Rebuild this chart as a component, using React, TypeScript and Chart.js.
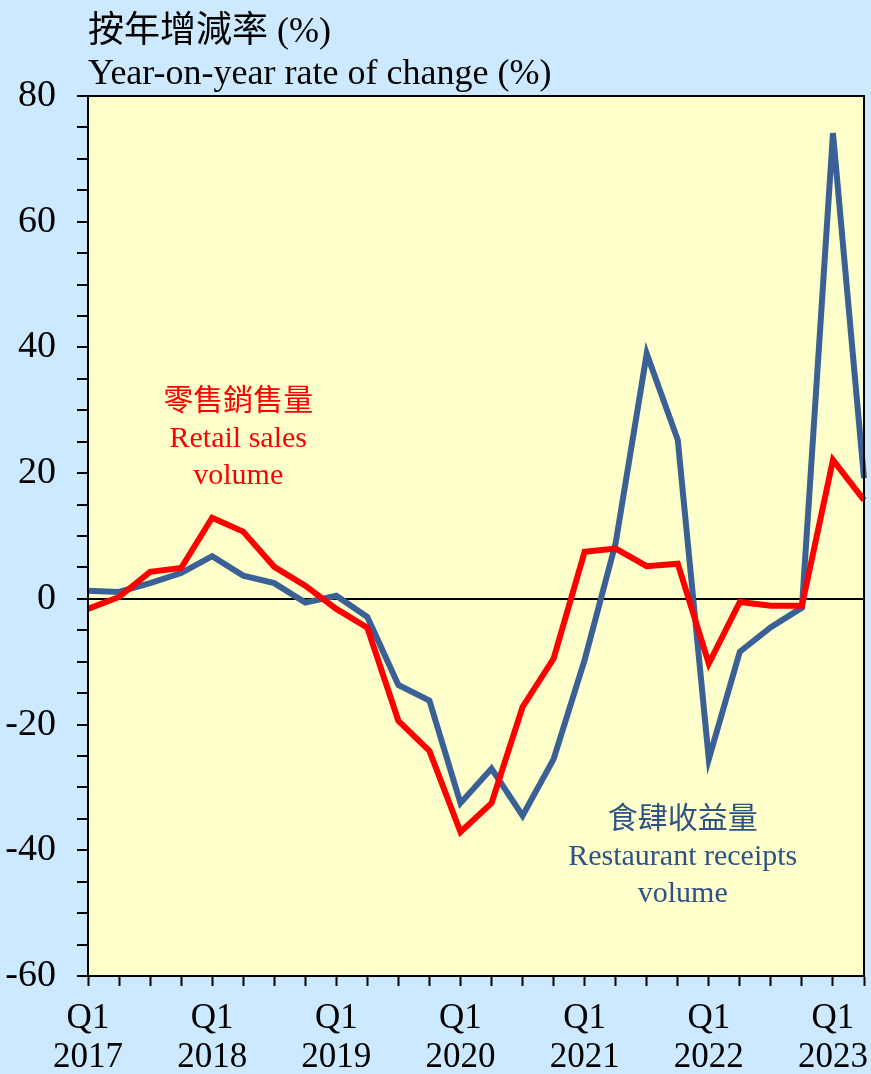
import React, { useEffect, useRef } from "react";
import { Chart, registerables } from "chart.js";

Chart.register(...registerables);

const categories = [
  "2017 Q1", "2017 Q2", "2017 Q3", "2017 Q4",
  "2018 Q1", "2018 Q2", "2018 Q3", "2018 Q4",
  "2019 Q1", "2019 Q2", "2019 Q3", "2019 Q4",
  "2020 Q1", "2020 Q2", "2020 Q3", "2020 Q4",
  "2021 Q1", "2021 Q2", "2021 Q3", "2021 Q4",
  "2022 Q1", "2022 Q2", "2022 Q3", "2022 Q4",
  "2023 Q1", "2023 Q2",
];

const retailSales = [
  -1.6, 0.3, 4.3, 4.9, 12.9, 10.7, 5.1, 2.1,
  -1.6, -4.6, -19.4, -24.2, -37.1, -32.5, -17.2, -9.5,
  7.5, 8.0, 5.2, 5.6, -10.3, -0.5, -1.1, -1.1,
  22.1, 15.7,
];

const restaurantReceipts = [
  1.3, 1.1, 2.5, 4.1, 6.8, 3.7, 2.5, -0.6,
  0.5, -2.9, -13.7, -16.2, -32.5, -27.0, -34.5, -25.5,
  -9.7, 8.9, 39.0, 25.3, -25.5, -8.4, -4.5, -1.4,
  74.1, 19.2,
];

const yMin = -60;
const yMax = 80;
const yLabelStep = 20;
const yMinorStep = 5;

const titleLines = ["按年增減率 (%)", "Year-on-year rate of change (%)"];
const retailLabel = ["零售銷售量", "Retail sales", "volume"];
const restaurantLabel = ["食肆收益量", "Restaurant receipts", "volume"];
// label anchor in data coordinates: [category index, value of first line]
const retailLabelAnchor = [4.84, 31.3];
const restaurantLabelAnchor = [19.16, -35.2];

const FONT = '"Liberation Serif", "Times New Roman", "Noto Sans CJK TC", serif';
const RED = "#FF0000";
const BLUE = "#3A6095";
const BLUE_TEXT = "#2E5285";

const decorPlugin = {
  id: "decor",
  beforeDraw(chart: any) {
    const { ctx, chartArea: a, width, height } = chart;
    ctx.save();
    ctx.fillStyle = "#CCE9FF";
    ctx.fillRect(0, 0, width, height);
    ctx.fillStyle = "#FFFFCC";
    ctx.fillRect(a.left, a.top, a.right - a.left, a.bottom - a.top);
    ctx.restore();
  },
  afterDatasetsDraw(chart: any) {
    const { ctx, chartArea: a } = chart;
    ctx.save();
    ctx.strokeStyle = "#000";
    ctx.lineWidth = 2;
    ctx.strokeRect(a.left, a.top, a.right - a.left, a.bottom - a.top);
    ctx.restore();
  },
  afterDraw(chart: any) {
    const { ctx, chartArea: a, scales } = chart;
    ctx.save();
    ctx.textBaseline = "alphabetic";
    ctx.textAlign = "left";
    ctx.fillStyle = "#000";
    ctx.font = `36px ${FONT}`;
    ctx.fillText(titleLines[0], a.left, 42);
    ctx.fillText(titleLines[1], a.left, 84);

    const drawBlock = (lines: string[], anchor: number[], color: string) => {
      const x = scales.x.getPixelForValue(anchor[0]);
      const y0 = scales.y.getPixelForValue(anchor[1]);
      ctx.fillStyle = color;
      ctx.textAlign = "center";
      ctx.textBaseline = "middle";
      ctx.font = `30px ${FONT}`;
      lines.forEach((t, i) => ctx.fillText(t, x, y0 + i * 37));
    };
    drawBlock(retailLabel, retailLabelAnchor, RED);
    drawBlock(restaurantLabel, restaurantLabelAnchor, BLUE_TEXT);
    ctx.restore();
  },
};

export default function App() {
  const ref = useRef<HTMLCanvasElement | null>(null);

  useEffect(() => {
    document.body.style.margin = "0";
    const canvas = ref.current;
    if (!canvas) return;
    const chart = new Chart(canvas, {
      type: "line",
      data: {
        labels: categories,
        datasets: [
          {
            label: "Retail sales volume",
            data: retailSales,
            borderColor: RED,
            borderWidth: 6,
            pointRadius: 0,
            tension: 0,
            fill: false,
          },
          {
            label: "Restaurant receipts volume",
            data: restaurantReceipts,
            borderColor: BLUE,
            borderWidth: 6,
            pointRadius: 0,
            tension: 0,
            fill: false,
          },
        ],
      },
      options: {
        responsive: false,
        animation: false,
        devicePixelRatio: 1,
        layout: { padding: { top: 96, right: 7, left: 0, bottom: 0 } },
        plugins: {
          legend: { display: false },
          tooltip: { enabled: false },
          title: { display: false },
        },
        scales: {
          x: {
            type: "category",
            offset: false,
            grid: {
              display: true,
              drawOnChartArea: false,
              drawTicks: true,
              tickLength: 10,
              tickColor: "#000",
              tickWidth: 2,
              offset: false,
            },
            border: { display: true, color: "#000", width: 2 },
            ticks: {
              autoSkip: false,
              maxRotation: 0,
              minRotation: 0,
              padding: 13,
              color: "#000",
              font: { family: FONT, size: 35, lineHeight: 1.12 },
              callback: (_v: any, i: number) => {
                const c = categories[i];
                const [year, q] = c.split(" ");
                return q === "Q1" ? [q, year] : "";
              },
            },
            afterFit: (s: any) => {
              s.height = 98;
              s.paddingLeft = 0;
              s.paddingRight = 0;
            },
          },
          y: {
            min: yMin,
            max: yMax,
            grid: {
              display: true,
              drawOnChartArea: true,
              drawTicks: true,
              tickLength: 11,
              tickColor: "#000",
              tickWidth: 2,
              lineWidth: 2,
              color: (ctx: any) => (ctx.tick && ctx.tick.value === 0 ? "#000" : "rgba(0,0,0,0)"),
            },
            border: { display: true, color: "#000", width: 2 },
            ticks: {
              stepSize: yMinorStep,
              autoSkip: false,
              padding: 21,
              color: "#000",
              font: { family: FONT, size: 38 },
              callback: (v: any) => (Number(v) % yLabelStep === 0 ? String(v) : ""),
            },
            afterFit: (s: any) => {
              s.width = 88;
              s.paddingTop = 0;
              s.paddingBottom = 0;
            },
          },
        },
      },
      plugins: [decorPlugin],
    });
    return () => chart.destroy();
  }, []);

  return (
    <div style={{ position: "absolute", left: 0, top: 0, width: 871, height: 1074 }}>
      <canvas ref={ref} width={871} height={1074} style={{ display: "block" }} />
    </div>
  );
}
